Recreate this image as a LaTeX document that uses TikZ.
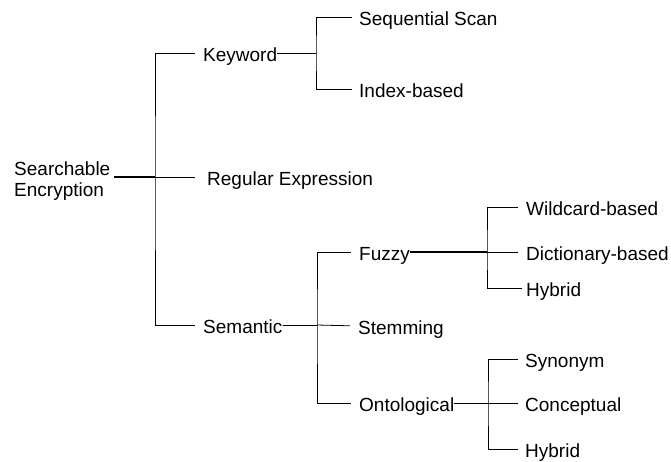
\documentclass[tikz,border=0pt]{standalone}
\usepackage{fontspec}
\setmainfont{Liberation Sans}
\usepackage{tikz}
\tikzstyle{term} = [anchor=west, inner sep=0pt, text height=16pt, text depth=0pt, font=\fontsize{19}{21}\selectfont]
\tikzstyle{root} = [anchor=west, inner sep=0pt, align=left, font=\fontsize{19}{21}\selectfont]
\tikzstyle{branch} = [draw=black, line width=0.8pt]
\tikzstyle{trunk} = [draw=black, line width=1.8pt]

\begin{document}
\begin{tikzpicture}[x=1pt, y=-1pt]
      \useasboundingbox (0,0) rectangle (671,461);
      \node (se) [root] at (14,181) {Searchable\\Encryption};
      \node (kw) [term] at (203,53) {Keyword};
      \node (re) [term] at (207,177) {Regular Expression};
      \node (sem) [term] at (203,325) {Semantic};
      \node (seq) [term] at (359,17) {Sequential Scan};
      \node (idx) [term] at (359,89) {Index-based};
      \node (fz) [term] at (359,252) {Fuzzy};
      \node (stem) [term] at (358,326) {Stemming};
      \node (onto) [term] at (359,403) {Ontological};
      \node (wild) [term] at (526,207) {Wildcard-based};
      \node (dict) [term] at (526,252) {Dictionary-based};
      \node (hyb1) [term] at (526,288) {Hybrid};
      \node (syn) [term] at (525,359) {Synonym};
      \node (conc) [term] at (525,403) {Conceptual};
      \node (hyb2) [term] at (525,449) {Hybrid};
      \coordinate (b0) at (155,177);
      \coordinate (b1) at (316,53);
      \coordinate (b2) at (317,325);
      \coordinate (b3) at (487,252);
      \coordinate (b4) at (488,403);
      % root
      \draw [trunk, shorten <=3pt] (se.east |- b0) -- (b0);
      \draw [branch, shorten >=12pt] (b0) -- (re.west);
      \draw [branch, shorten <=8pt, shorten >=8pt] (kw.west) -| (b0) |- (sem.west);
      % keyword
      \draw [branch] (kw.east) -- (b1);
      \draw [branch, shorten <=7pt, shorten >=7pt] (seq.west) -| (b1) |- (idx.west);
      % semantic
      \draw [branch] (sem.east) -- (b2);
      \draw [branch, shorten >=8pt] (b2) -- (stem.west);
      \draw [branch, shorten <=8pt, shorten >=8pt] (fz.west) -| (b2) |- (onto.west);
      % fuzzy
      \draw [trunk] (fz.east) -- (b3);
      \draw [branch, shorten >=8pt] (b3) -- (dict.west);
      \draw [branch, shorten <=8pt, shorten >=4pt] (wild.west) -| (b3) |- (hyb1.west);
      % ontological
      \draw [branch] (onto.east) -- (b4);
      \draw [branch, shorten >=7pt] (b4) -- (conc.west);
      \draw [branch, shorten <=7pt, shorten >=7pt] (syn.west) -| (b4) |- (hyb2.west);
    \end{tikzpicture}
\end{document}
